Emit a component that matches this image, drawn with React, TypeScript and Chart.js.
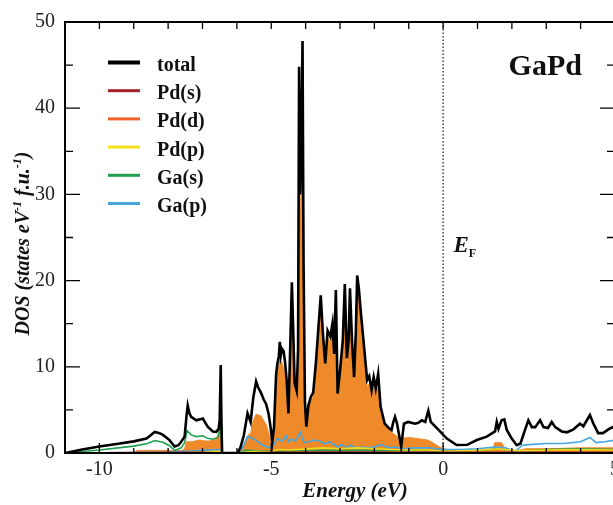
import React, { useEffect, useRef } from "react";
import { Chart, registerables } from "chart.js";

Chart.register(...registerables);

const SERIF = '"Liberation Serif", "DejaVu Serif", "Times New Roman", serif';

// ---- axes ----
const xMin = -11;
const xMax = 5;
const yMin = 0;
const yMax = 50;
const xTicks = [-10, -5, 0, 5];
const xMinorTicks = [-11, -9, -8, -7, -6, -4, -3, -2, -1, 1, 2, 3, 4];
const yTicks = [0, 10, 20, 30, 40, 50];
const yMinorTicks = [5, 15, 25, 35, 45];

// ---- legend ----
const legendLabels = ["total", "Pd(s)", "Pd(d)", "Pd(p)", "Ga(s)", "Ga(p)"];
const legendColors = ["#000000", "#a3232a", "#f26128", "#f5e11a", "#1f9e4e", "#45a6e0"];

// ---- total DOS ----
const totalE = [
  -11, -10.5, -10, -9.5, -9, -8.63, -8.5, -8.39, -8.25, -8.15, -7.96, -7.81, -7.7, -7.62, -7.52,
  -7.46, -7.43, -7.38, -7.33, -7.18, -7.08, -6.99, -6.85, -6.7, -6.6, -6.53, -6.5, -6.47, -6.45,
  -6.43, -5.98, -5.9, -5.8, -5.69, -5.6, -5.52, -5.44, -5.38, -5.3, -5.22, -5.15, -5.08, -5.02,
  -4.97, -4.92, -4.86, -4.82, -4.78, -4.75, -4.72, -4.69, -4.64, -4.6, -4.55, -4.5, -4.45, -4.4,
  -4.36, -4.32, -4.26, -4.22, -4.19, -4.16, -4.13, -4.09, -4.06, -4.02, -3.98, -3.92, -3.85,
  -3.78, -3.7, -3.62, -3.56, -3.5, -3.43, -3.36, -3.28, -3.22, -3.17, -3.12, -3.07, -3.0, -2.92,
  -2.86, -2.8, -2.75, -2.71, -2.65, -2.59, -2.54, -2.5, -2.45, -2.4, -2.3, -2.21, -2.15, -2.08,
  -2.02, -1.96, -1.89, -1.82, -1.7, -1.58, -1.5, -1.45, -1.4, -1.34, -1.22, -1.14, -1.02, -0.92,
  -0.82, -0.72, -0.62, -0.52, -0.43, -0.36, -0.26, -0.09, 0.1, 0.39, 0.7, 0.98, 1.27, 1.51, 1.56,
  1.61, 1.7, 1.78, 1.85, 1.99, 2.14, 2.25, 2.38, 2.48, 2.58, 2.68, 2.82, 2.92, 3.05, 3.16, 3.26,
  3.45, 3.6, 3.78, 3.98, 4.08, 4.27, 4.36, 4.51, 4.65, 4.85, 5.0,
];
const totalDOS = [
  0, 0.4, 0.75, 1.05, 1.35, 1.67, 2.1, 2.45, 2.3, 2.1, 1.5, 0.75, 0.9, 1.3, 1.9,
  4.5, 5.5, 4.6, 4.2, 3.8, 3.9, 4.0, 3.05, 2.5, 2.45, 2.8, 3.8, 10.2, 4.0,
  0, 0, 0.6, 2.0, 4.6, 3.6, 6.5, 8.3, 7.6, 7.0, 6.2, 5.7, 4.6, 3.0,
  1.3, 3.0, 9.0, 10.4, 11.2, 12.9, 11.4, 12.1, 11.8, 10.6, 8.4, 4.6, 12, 19.8,
  14, 8.1, 7.2, 12, 44.8, 30, 34, 47.8, 22, 6.0, 3.05, 5.5, 6.5,
  7.0, 10.5, 15, 18.3, 14, 10.4, 14.2, 13.5, 15.0, 11.5, 18.9, 6.9, 9.5, 13,
  19.6, 11, 13, 19.1, 13, 8.8, 14, 20.6, 19, 16.6, 12.3, 8.45, 8.9, 7.3,
  8.8, 7.5, 9.2, 5.4, 3.4, 2.9, 2.66, 3.6, 4.2, 3.4, 0.73, 3.4, 3.6, 3.5,
  3.4, 3.5, 3.8, 3.6, 4.9, 3.6, 3.2, 2.5, 1.7, 0.93, 0.95, 1.5, 1.9, 2.5, 3.6,
  2.8, 3.8, 3.9, 2.7, 1.7, 0.9, 1.1, 2.66, 3.8, 3.0, 3.0, 3.8, 3.0, 2.9, 3.6, 3.0,
  2.5, 2.4, 2.7, 3.4, 3.1, 4.4, 3.5, 2.3, 2.3, 2.85, 3.1,
];

// ---- Pd(d) ----
const pddE = [
  -11, -9.0, -8.9, -8.5, -8.0, -7.85, -7.6, -7.52, -7.47, -7.3, -7.1, -6.95, -6.8, -6.65, -6.55,
  -6.48, -6.45, -6.43, -5.98, -5.9, -5.8, -5.69, -5.6, -5.52, -5.44, -5.3, -5.15, -5.05, -4.97,
  -4.92, -4.86, -4.82, -4.75, -4.69, -4.6, -4.55, -4.5, -4.45, -4.4, -4.36, -4.32, -4.26, -4.22,
  -4.19, -4.16, -4.13, -4.09, -4.06, -4.02, -3.98, -3.92, -3.85, -3.78, -3.7, -3.62, -3.56, -3.5,
  -3.43, -3.36, -3.28, -3.22, -3.17, -3.12, -3.07, -3.0, -2.92, -2.86, -2.8, -2.75, -2.71, -2.65,
  -2.59, -2.54, -2.5, -2.45, -2.4, -2.3, -2.21, -2.15, -2.08, -2.02, -1.96, -1.89, -1.82, -1.7,
  -1.58, -1.5, -1.4, -1.3, -1.2, -1.0, -0.8, -0.6, -0.45, -0.3, -0.15, 0.0, 0.3, 1.0, 1.45, 1.5,
  1.7, 1.8, 2.1, 2.4, 3.0, 4.0, 5.0,
];
const pddDOS = [
  0, 0.05, 0.3, 0.3, 0.3, 0.25, 0.3, 0.5, 1.3, 1.3, 1.5, 1.4, 1.4, 1.5, 2.0,
  3.8, 3.0, 0, 0, 0.2, 0.9, 2.0, 2.3, 3.8, 4.5, 4.3, 3.3, 2.0, 0.8,
  2.6, 8.0, 9.0, 10.8, 10.5, 9.2, 7.5, 4.2, 11, 18.5, 13, 7.5, 6.6, 11,
  40, 27, 30, 43, 20, 5.2, 2.8, 5.0, 6.0, 6.5, 9.8, 14, 17.5, 13,
  9.8, 13.5, 12.8, 14.2, 11, 18, 6.4, 9, 12.3, 18.6, 10.4, 12.4, 18.2, 12.4,
  8.3, 13.3, 19.6, 18, 15.6, 11.4, 7.6, 8.0, 6.5, 7.8, 6.8, 7.6, 5.2, 3.4,
  2.8, 2.4, 2.1, 1.8, 1.7, 1.8, 1.7, 1.6, 1.5, 1.2, 0.8, 0.5, 0.3, 0.3, 0.4, 1.2,
  1.2, 0.5, 0.2, 0.5, 0.5, 0.6, 0.6,
];

// ---- Ga(s) ----
const gasE = [
  -11, -10, -9, -8.6, -8.39, -8.15, -7.96, -7.81, -7.62, -7.52, -7.45, -7.33, -7.18, -6.99, -6.85,
  -6.7, -6.56, -6.5, -6.47, -6.43, -5.98, -5.7, -5.0, -4.0, -3.0, -2.0, -1.0, 0, 1.0, 1.6, 2.2,
  3.0, 4.0, 5.0,
];
const gasDOS = [
  0, 0.35, 0.8, 1.1, 1.45, 1.25, 0.85, 0.3, 0.6, 1.2, 2.6, 2.1, 1.9, 2.0, 1.7,
  1.6, 1.8, 2.6, 3.3, 0, 0, 0.3, 0.2, 0.3, 0.3, 0.3, 0.3, 0.2, 0.3, 0.5, 0.2,
  0.4, 0.5, 0.4,
];

// ---- Ga(p) ----
const gapE = [
  -11, -9, -8, -7.5, -7.0, -6.5, -6.43, -5.98, -5.85, -5.69, -5.6, -5.5, -5.35, -5.25, -5.05,
  -4.95, -4.82, -4.75, -4.68, -4.57, -4.5, -4.42, -4.3, -4.15, -4.05, -3.9, -3.75, -3.6, -3.45,
  -3.3, -3.15, -3.05, -2.95, -2.8, -2.7, -2.55, -2.4, -2.2, -2.0, -1.8, -1.6, -1.4, -1.2, -0.8,
  -0.4, 0, 0.5, 1.0, 1.5, 1.8, 2.1, 2.3, 2.6, 3.0, 3.5, 4.0, 4.27, 4.45, 4.7, 5.0,
];
const gapDOS = [
  0, 0.05, 0.1, 0.2, 0.3, 0.4, 0, 0, 0.5, 1.9, 1.8, 1.6, 1.2, 0.9, 0.6,
  0.8, 1.7, 1.5, 1.4, 2.0, 1.3, 1.6, 1.4, 2.4, 1.2, 1.3, 1.5, 1.4, 1.1,
  1.3, 0.9, 0.7, 1.0, 0.6, 0.9, 0.6, 0.7, 0.6, 0.7, 1.0, 0.6, 0.7, 0.5, 0.6,
  0.6, 0.4, 0.4, 0.5, 0.7, 0.6, 0.2, 0.9, 1.0, 1.1, 1.1, 1.3, 1.8, 1.2, 1.3, 1.5,
];

// ---- Pd(p) ----
const pdpE = [
  -11, -7.5, -6.5, -6.43, -5.98, -5.5, -5.0, -4.8, -4.5, -4.0, -3.5, -3.0, -2.5, -2.0, -1.5,
  -1.0, -0.5, 0, 1.0, 1.6, 2.2, 3.0, 4.0, 5.0,
];
const pdpDOS = [
  0, 0.05, 0.2, 0, 0, 0.2, 0.15, 0.4, 0.35, 0.45, 0.6, 0.5, 0.6, 0.5, 0.4,
  0.35, 0.35, 0.2, 0.3, 0.5, 0.25, 0.35, 0.4, 0.35,
];

// ---- Pd(s) ----
const pdsE = [-11, -9, -7, -6.43, -5.98, -5, -3, -1, 0, 2, 5];
const pdsDOS = [0, 0.05, 0.08, 0, 0, 0.1, 0.12, 0.1, 0.08, 0.1, 0.1];

function pts(e: number[], v: number[]) {
  return e.map((x, i) => ({ x, y: v[i] }));
}

function drawParts(
  ctx: CanvasRenderingContext2D,
  parts: { t: string; font: string; dy: number }[],
  x: number,
  y: number,
  align: "left" | "center"
) {
  let total = 0;
  const widths = parts.map((p) => {
    ctx.font = p.font;
    const w = ctx.measureText(p.t).width;
    total += w;
    return w;
  });
  let cx = align === "center" ? x - total / 2 : x;
  ctx.textAlign = "left";
  ctx.textBaseline = "alphabetic";
  parts.forEach((p, i) => {
    ctx.font = p.font;
    ctx.fillText(p.t, cx, y + p.dy);
    cx += widths[i];
  });
}

const decorPlugin = {
  id: "decor",
  beforeDatasetsDraw(chart: any) {
    const { ctx, chartArea: a, scales } = chart;
    const x0 = scales.x.getPixelForValue(0);
    ctx.save();
    ctx.strokeStyle = "#444";
    ctx.lineWidth = 1.5;
    ctx.setLineDash([1.5, 2]);
    ctx.beginPath();
    ctx.moveTo(x0, a.top);
    ctx.lineTo(x0, a.bottom);
    ctx.stroke();
    ctx.restore();
  },
  afterDraw(chart: any) {
    const { ctx, chartArea: a, scales } = chart;
    const xs = scales.x;
    const ys = scales.y;
    ctx.save();
    ctx.strokeStyle = "#000";
    ctx.lineWidth = 2;
    ctx.setLineDash([]);
    ctx.strokeRect(a.left, a.top, a.right - a.left, a.bottom - a.top);

    ctx.lineWidth = 1.3;
    ctx.beginPath();
    const xTick = (v: number, bl: number, tl: number) => {
      const px = xs.getPixelForValue(v);
      ctx.moveTo(px, a.bottom);
      ctx.lineTo(px, a.bottom - bl);
      ctx.moveTo(px, a.top);
      ctx.lineTo(px, a.top + tl);
    };
    xTicks.forEach((v) => xTick(v, 10, 7));
    xMinorTicks.forEach((v) => xTick(v, 5, 7));
    const yTick = (v: number, len: number) => {
      const py = ys.getPixelForValue(v);
      ctx.moveTo(a.left, py);
      ctx.lineTo(a.left + len, py);
      ctx.moveTo(a.right, py);
      ctx.lineTo(a.right - len, py);
    };
    yTicks.forEach((v) => yTick(v, 15));
    yMinorTicks.forEach((v) => yTick(v, 8));
    ctx.stroke();

    // legend
    legendLabels.forEach((lab, i) => {
      const ly = a.top + 40.5 + 28.2 * i;
      ctx.strokeStyle = legendColors[i];
      ctx.lineWidth = i === 0 ? 4 : 3;
      ctx.beginPath();
      ctx.moveTo(a.left + 43, ly);
      ctx.lineTo(a.left + 75, ly);
      ctx.stroke();
      ctx.fillStyle = "#111";
      ctx.font = `bold 20px ${SERIF}`;
      ctx.textAlign = "left";
      ctx.textBaseline = "alphabetic";
      ctx.fillText(lab, a.left + 92, ly + 8.5);
    });

    // GaPd label
    ctx.fillStyle = "#111";
    ctx.font = `bold 30px ${SERIF}`;
    ctx.textAlign = "center";
    ctx.textBaseline = "alphabetic";
    ctx.fillText("GaPd", xs.getPixelForValue(2.97), ys.getPixelForValue(43.8));

    // E_F label
    drawParts(
      ctx,
      [
        { t: "E", font: `italic bold 23px ${SERIF}`, dy: 0 },
        { t: "F", font: `bold 12px ${SERIF}`, dy: 5 },
      ],
      xs.getPixelForValue(0.3),
      ys.getPixelForValue(23.3),
      "left"
    );

    // x axis title
    ctx.fillStyle = "#111";
    drawParts(
      ctx,
      [{ t: "Energy (eV)", font: `italic bold 21px ${SERIF}`, dy: 0 }],
      355,
      497,
      "center"
    );

    // y axis title
    ctx.save();
    ctx.translate(22, (a.top + a.bottom) / 2 + 6);
    ctx.rotate(-Math.PI / 2);
    const big = `italic bold 20px ${SERIF}`;
    const sup = `italic bold 12px ${SERIF}`;
    drawParts(
      ctx,
      [
        { t: "DOS (states eV", font: big, dy: 0 },
        { t: "-1", font: sup, dy: -8 },
        { t: " f.u.", font: big, dy: 0 },
        { t: "-1", font: sup, dy: -8 },
        { t: ")", font: big, dy: 0 },
      ],
      0,
      7,
      "center"
    );
    ctx.restore();
    ctx.restore();
  },
};

export default function App() {
  const ref = useRef<HTMLCanvasElement | null>(null);
  useEffect(() => {
    if (!ref.current) return;
    const line = (label: string, e: number[], v: number[], color: string, w: number, order: number) => ({
      label,
      data: pts(e, v),
      borderColor: color,
      backgroundColor: color,
      borderWidth: w,
      pointRadius: 0,
      tension: 0,
      fill: false,
      order,
    });
    const chart = new Chart(ref.current, {
      type: "line",
      data: {
        datasets: [
          line("total", totalE, totalDOS, "#000000", 2.6, 0),
          line("Pd(s)", pdsE, pdsDOS, "#a3232a", 1.4, 1),
          line("Pd(p)", pdpE, pdpDOS, "#f0d81a", 1.6, 2),
          line("Ga(p)", gapE, gapDOS, "#45a6e0", 1.6, 3),
          line("Ga(s)", gasE, gasDOS, "#1f9e4e", 1.6, 4),
          {
            ...line("Pd(d)", pddE, pddDOS, "#ef8a2a", 1, 5),
            fill: "origin",
            backgroundColor: "#ef8a2a",
          },
        ],
      },
      options: {
        animation: false,
        responsive: false,
        maintainAspectRatio: false,
        layout: { padding: { left: 0, top: 21, right: 25, bottom: 0 } },
        plugins: { legend: { display: false }, tooltip: { enabled: false } },
        scales: {
          x: {
            type: "linear",
            min: xMin,
            max: xMax,
            grid: { display: false, drawTicks: false },
            border: { display: false },
            ticks: {
              padding: 5,
              color: "#222",
              font: { family: SERIF, size: 20 },
              callback: (v: any) => String(v),
            },
            afterBuildTicks: (s: any) => {
              s.ticks = xTicks.map((value) => ({ value }));
            },
            afterFit: (s: any) => {
              s.height = 52;
            },
          },
          y: {
            type: "linear",
            min: yMin,
            max: yMax,
            grid: { display: false, drawTicks: false },
            border: { display: false },
            ticks: {
              padding: 10,
              color: "#222",
              font: { family: SERIF, size: 20 },
              callback: (v: any) => String(v),
            },
            afterBuildTicks: (s: any) => {
              s.ticks = yTicks.map((value) => ({ value }));
            },
            afterFit: (s: any) => {
              s.width = 65;
            },
          },
        },
      },
      plugins: [decorPlugin],
    } as any);
    return () => chart.destroy();
  }, []);
  return (
    <div
      style={{
        position: "fixed",
        left: 0,
        top: 0,
        width: 613,
        height: 505,
        overflow: "hidden",
        background: "#fff",
      }}
    >
      <canvas ref={ref} width={640} height={505} style={{ width: 640, height: 505, display: "block" }} />
    </div>
  );
}
